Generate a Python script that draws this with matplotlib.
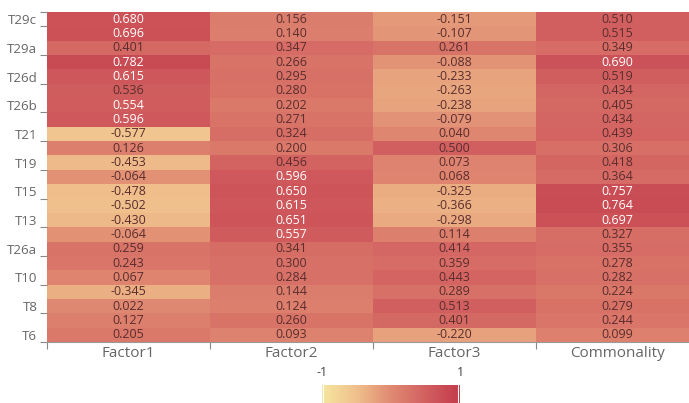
import numpy as np
import matplotlib
matplotlib.use("Agg")
import matplotlib.pyplot as plt
from matplotlib.colors import LinearSegmentedColormap

columns = ["Factor1", "Factor2", "Factor3", "Commonality"]
row_labels = ["T29c", "T29a", "T26d", "T26b", "T21", "T19", "T15", "T13", "T26a", "T10", "T8", "T6"]

factor1 = [0.680, 0.696, 0.401, 0.782, 0.615, 0.536, 0.554, 0.596, -0.577, 0.126, -0.453, -0.064,
           -0.478, -0.502, -0.430, -0.064, 0.259, 0.243, 0.067, -0.345, 0.022, 0.127, 0.205]
factor2 = [0.156, 0.140, 0.347, 0.266, 0.295, 0.280, 0.202, 0.271, 0.324, 0.200, 0.456, 0.596,
           0.650, 0.615, 0.651, 0.557, 0.341, 0.300, 0.284, 0.144, 0.124, 0.260, 0.093]
factor3 = [-0.151, -0.107, 0.261, -0.088, -0.233, -0.263, -0.238, -0.079, 0.040, 0.500, 0.073, 0.068,
           -0.325, -0.366, -0.298, 0.114, 0.414, 0.359, 0.443, 0.289, 0.513, 0.401, -0.220]
commonality = [0.510, 0.515, 0.349, 0.690, 0.519, 0.434, 0.405, 0.434, 0.439, 0.306, 0.418, 0.364,
               0.757, 0.764, 0.697, 0.327, 0.355, 0.278, 0.282, 0.224, 0.279, 0.244, 0.099]

data = np.array([factor1, factor2, factor3, commonality]).T
nrows, ncols = data.shape

cmap = LinearSegmentedColormap.from_list(
    "ylrd", [(0.0, "#f5e6a0"), (0.25, "#f0c08c"), (0.5, "#e08a72"), (0.75, "#d26060"), (1.0, "#c23c4c")])

plt.rcParams['font.family'] = ['Open Sans', 'DejaVu Sans']
fig = plt.figure(figsize=(6.89, 4.03), dpi=100)
W, H = 689, 403
left, right, top, bottom = 47, 699, 12, 342
ax = fig.add_axes([left / W, (H - bottom) / H, (right - left) / W, (bottom - top) / H])
ax.imshow(data, cmap=cmap, vmin=-1, vmax=1, aspect='auto', interpolation='nearest')

for i in range(nrows):
    for j in range(ncols):
        v = data[i, j]
        color = "#ffffff" if v > 0.55 else "#5a2d2d"
        ax.text(j, i, f"{v:.3f}", ha='center', va='center', fontsize=9, color=color)

ax.set_xlim(-0.5, ncols - 0.5)
ax.set_ylim(nrows - 0.5, -0.5)
ax.set_xticks(range(ncols))
ax.set_xticklabels(columns, fontsize=11, color="#666666")
ax.set_xticks(np.arange(-0.5, ncols, 1.0), minor=True)
label_rows = list(range(0, nrows, 2))
ax.set_yticks(label_rows)
ax.set_yticklabels(row_labels, fontsize=9.5, color="#666666")
ax.set_yticks([-0.5] + [r + 0.5 for r in label_rows], minor=True)
ax.tick_params(axis='both', which='major', length=0)
ax.tick_params(axis='x', which='major', pad=3)
ax.tick_params(axis='y', which='major', pad=7)
ax.tick_params(axis='both', which='minor', length=5, color="#888888", width=0.8)
for s in ['top', 'right', 'left']:
    ax.spines[s].set_visible(False)
ax.spines['bottom'].set_color("#999999")
ax.spines['bottom'].set_linewidth(0.8)

# colorbar (visualMap)
cb_l, cb_r, cb_t, cb_b = 322, 460, 385, 410
cax = fig.add_axes([cb_l / W, (H - cb_b) / H, (cb_r - cb_l) / W, (cb_b - cb_t) / H])
grad = np.linspace(-1, 1, 256).reshape(1, -1)
cax.imshow(grad, cmap=cmap, vmin=-1, vmax=1, aspect='auto', extent=[-1, 1, 0, 1])
cax.axvline(-0.985, color="white", lw=0.8)
cax.axvline(0.975, color="white", lw=0.8)
cax.set_xlim(-1, 1)
cax.set_axis_off()
fig.text(cb_l / W, 1 - 373 / H, "-1", ha='center', va='center', fontsize=9, color="#444444")
fig.text(cb_r / W, 1 - 373 / H, "1", ha='center', va='center', fontsize=9, color="#444444")

fig.savefig("out.png", dpi=100)
